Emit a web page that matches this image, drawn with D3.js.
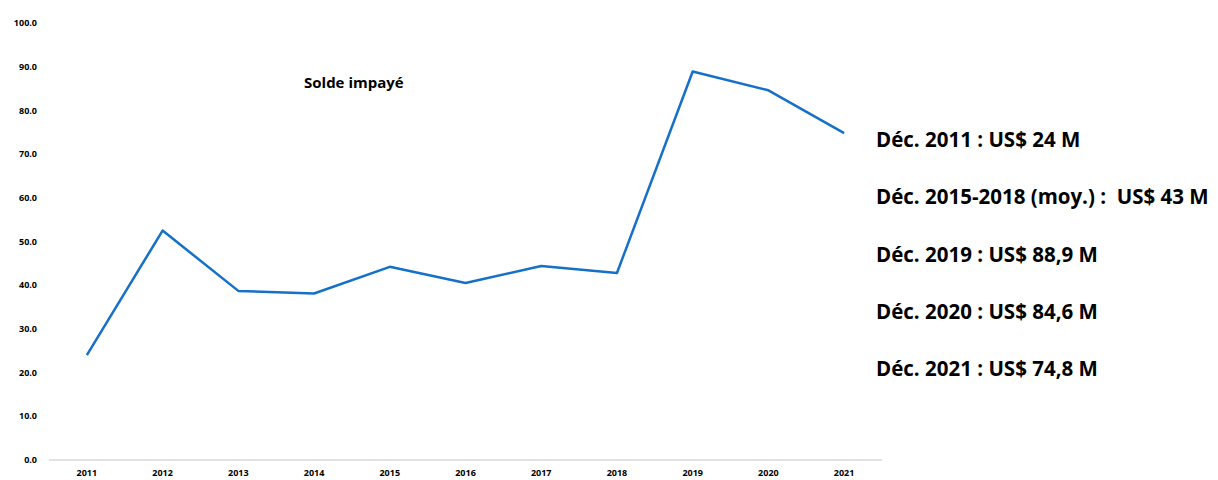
<!DOCTYPE html>
<html>
<head>
<meta charset="utf-8">
<script src="https://cdn.jsdelivr.net/npm/d3@7"></script>
<style>
  body { margin: 0; background: #fff; }
  svg text { font-family: "Open Sans", "Liberation Sans", sans-serif; font-weight: bold; fill: #000; }
</style>
</head>
<body>
<div id="chart"></div>
<script>
const years = [`2011`, `2012`, `2013`, `2014`, `2015`, `2016`, `2017`, `2018`, `2019`, `2020`, `2021`];
const unpaid = [24.0, 52.5, 38.7, 38.1, 44.2, 40.5, 44.4, 42.8, 88.9, 84.6, 74.8];
const yTicks = [0, 10, 20, 30, 40, 50, 60, 70, 80, 90, 100];
const seriesLabel = `Solde impayé`;
const notes = [
  `Déc. 2011 : US$ 24 M`,
  `Déc. 2015-2018 (moy.) :  US$ 43 M`,
  `Déc. 2019 : US$ 88,9 M`,
  `Déc. 2020 : US$ 84,6 M`,
  `Déc. 2021 : US$ 74,8 M`
];

const width = 1218;
const height = 480;
const margin = { top: 23, right: 336, bottom: 20, left: 49 };

const svg = d3.select(`#chart`).append(`svg`)
    .attr(`width`, width)
    .attr(`height`, height);

const x = d3.scaleBand()
  .domain(years)
  .range([margin.left, width - margin.right]);

const y = d3.scaleLinear()
  .domain([0, 100])
  .range([height - margin.bottom, margin.top]);

// baseline
svg.append(`line`)
    .attr(`x1`, margin.left)
    .attr(`x2`, width - margin.right)
    .attr(`y1`, y(0))
    .attr(`y2`, y(0))
    .attr(`stroke`, `#d9d9d9`)
    .attr(`stroke-width`, 1.5);

// y labels
svg.append(`g`)
  .selectAll(`text`)
    .data(yTicks)
  .enter().append(`text`)
    .attr(`x`, 37)
    .attr(`y`, (d) => y(d))
    .attr(`dy`, `0.35em`)
    .attr(`text-anchor`, `end`)
    .attr(`font-size`, 9)
    .text((d) => d3.format(`.1f`)(d));

// x labels
svg.append(`g`)
  .selectAll(`text`)
    .data(years)
  .enter().append(`text`)
    .attr(`x`, (d) => x(d) + x.bandwidth() / 2)
    .attr(`y`, y(0) + 16)
    .attr(`text-anchor`, `middle`)
    .attr(`font-size`, 9)
    .text((d) => d);

const line = d3.line()
  .x((d, i) => x(years[i]) + x.bandwidth() / 2)
  .y((d) => y(d));

svg.append(`path`)
    .datum(unpaid)
    .attr(`d`, line)
    .attr(`fill`, `none`)
    .attr(`stroke`, `#1570c8`)
    .attr(`stroke-width`, 2.5)
    .attr(`stroke-linejoin`, `round`);

svg.append(`text`)
    .attr(`x`, 304)
    .attr(`y`, 88)
    .attr(`font-size`, 15)
    .text(seriesLabel);

svg.append(`g`)
  .selectAll(`text`)
    .data(notes)
  .enter().append(`text`)
    .attr(`x`, 876)
    .attr(`y`, (d, i) => 147 + i * 57.3)
    .attr(`font-size`, 20.5)
    .attr(`xml:space`, `preserve`)
    .style(`white-space`, `pre`)
    .text((d) => d);
</script>
</body>
</html>
